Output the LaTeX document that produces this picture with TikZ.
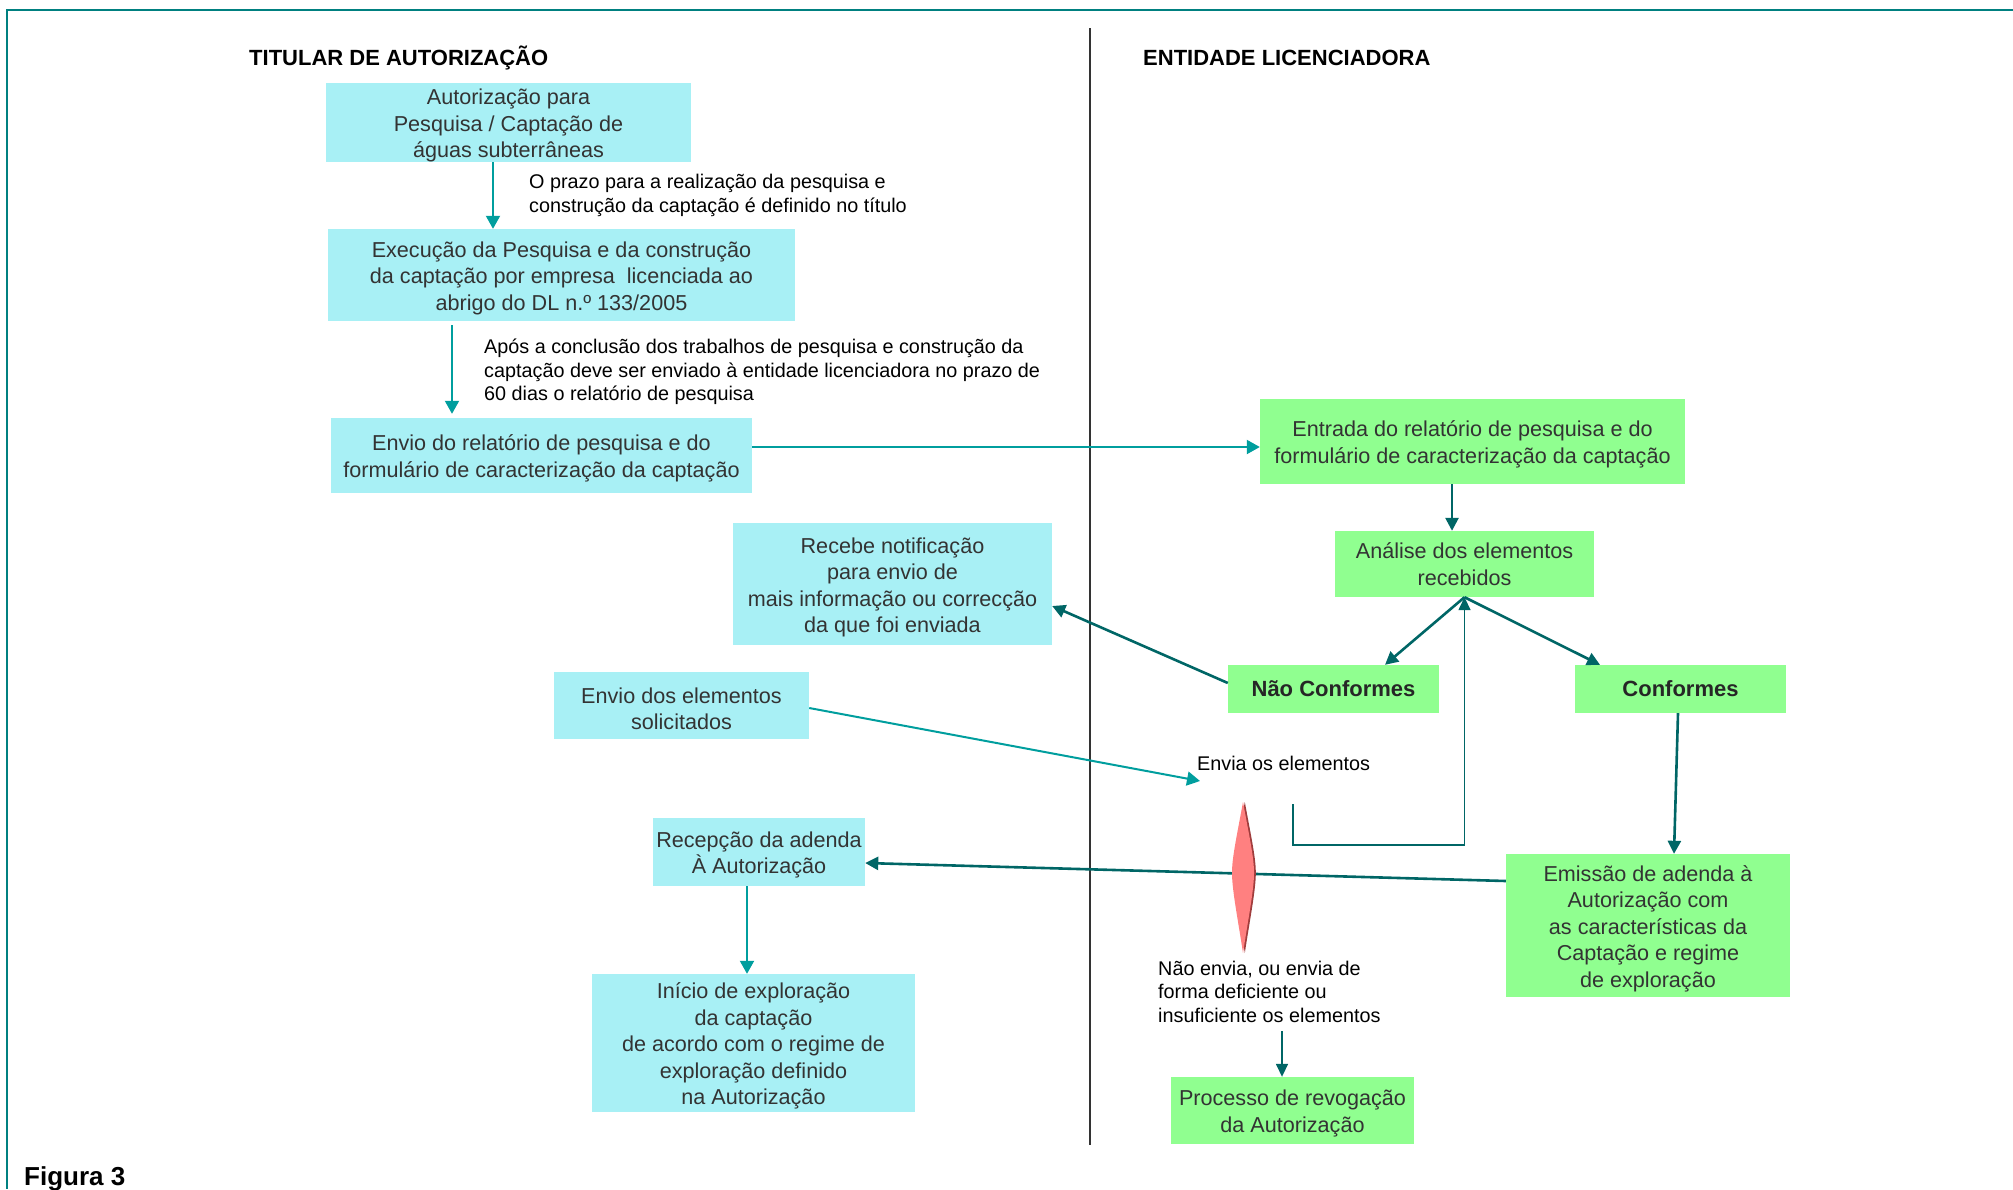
\documentclass[tikz,border=0pt]{standalone}
\usepackage{fontspec}
\setmainfont{Liberation Sans}
\usetikzlibrary{arrows.meta}
\definecolor{cyanbox}{RGB}{168,240,245}
\definecolor{greenbox}{RGB}{144,255,144}
\definecolor{tealA}{RGB}{0,158,158}
\definecolor{tealD}{RGB}{0,102,102}
\definecolor{frameteal}{RGB}{0,128,128}
\definecolor{spindle}{RGB}{255,128,128}
\definecolor{spindleD}{RGB}{160,60,60}
\newcommand\fstrut{\rule{0pt}{22pt}}
\begin{document}
\begin{tikzpicture}[x=1pt,y=-1pt,
  sz/.style 2 args={minimum width=#1pt,minimum height=#2pt},
  box/.style={inner sep=0pt, align=center, text=black!80, font=\fontsize{21.6}{26.5}\selectfont},
  cbox/.style={box, fill=cyanbox},
  gbox/.style={box, fill=greenbox},
  boldbox/.style={box, fill=greenbox, font=\bfseries\fontsize{22}{26}\selectfont, text=black!85},
  lbl/.style={inner sep=0pt, align=left, anchor=north west, font=\fontsize{19.8}{23.5}\selectfont},
  ttl/.style={inner sep=0pt, anchor=base west, font=\bfseries\fontsize{22}{26}\selectfont},
  arA/.style={draw=tealA, line width=2pt, -{Triangle[width=14pt,length=13pt]}},
  arD/.style={draw=tealD, line width=2.6pt, -{Triangle[width=13pt,length=13pt]}},
  arDthin/.style={draw=tealD, line width=1.6pt, -{Triangle[width=12pt,length=13pt]}}
]
\useasboundingbox (0,0) rectangle (2013,1189);
% frame
\draw[frameteal, line width=2.5pt] (2013,10) -- (7,10) -- (7,1189);
% divider
\draw[black!80, line width=1.4pt] (1090,28) -- (1090,1145);
% titles
\node[ttl] (t1) at (249,65) {TITULAR DE AUTORIZAÇÃO};
\node[ttl] (t2) at (1143,65) {ENTIDADE LICENCIADORA};
\node[inner sep=0pt, anchor=base west, font=\bfseries\fontsize{26}{30}\selectfont] (fig) at (24,1185) {Figura 3};

% left column boxes
\node[cbox, sz={365}{79}] (A1) at (508.5,122.5) {\fstrut Autorização para\\Pesquisa / Captação de\\águas subterrâneas};
\node[cbox, sz={467}{92}] (A2) at (561.5,275) {\fstrut Execução da Pesquisa e da construção\\da captação por empresa~ licenciada ao\\abrigo do DL n.º 133/2005};
\node[cbox, sz={421}{75}] (A3) at (541.5,455.5) {\fstrut Envio do relatório de pesquisa e do\\formulário de caracterização da captação};
\node[cbox, sz={319}{122}] (R) at (892.5,584) {\fstrut Recebe notificação\\para envio de\\mais informação ou correcção\\da que foi enviada};
\node[cbox, sz={255}{67}] (E) at (681.5,705.5) {\fstrut Envio dos elementos\\solicitados};
\node[cbox, sz={212}{68}] (Rec) at (759,852) {\fstrut Recepção da adenda\\À Autorização};
\node[cbox, sz={323}{138}] (Ini) at (753.5,1043) {\fstrut Início de exploração\\da captação\\de acordo com o regime de\\exploração definido\\na Autorização};

% right column boxes
\node[gbox, sz={425}{85}] (B1) at (1472.5,441.5) {\fstrut Entrada do relatório de pesquisa e do\\formulário de caracterização da captação};
\node[gbox, sz={259}{66}] (B2) at (1464.5,564) {Análise dos elementos\\recebidos};
\node[boldbox, sz={211}{48}] (NC) at (1333.5,689) {Não Conformes};
\node[boldbox, sz={211}{48}] (C) at (1680.5,689) {Conformes};
\node[gbox, sz={284}{143}] (Em) at (1648,925.5) {\fstrut Emissão de adenda à\\Autorização com\\as características da\\Captação e regime\\de exploração};
\node[gbox, sz={243}{67}] (Rev) at (1292.5,1110.5) {\fstrut Processo de revogação\\da Autorização};

% labels
\node[lbl] (L1) at (529,174) {O prazo para a realização da pesquisa e\\construção da captação é definido no título};
\node[lbl] (L2) at (484,339) {Após a conclusão dos trabalhos de pesquisa e construção da\\captação deve ser enviado à entidade licenciadora no prazo de\\60 dias o relatório de pesquisa};
\node[lbl] (Env) at (1197,755.5) {Envia os elementos};
\node[lbl] (Nao) at (1158,960.5) {Não envia, ou envia de\\forma deficiente ou\\insuficiente os elementos};

\coordinate (envtip) at (1200,781);
\coordinate (brk) at (1293,804);

% connectors
\draw[arA] ([xshift=-15.5pt]A1.south) -- ([xshift=-15.5pt]A1.south |- A2.north);
\draw[arA, shorten <=4pt, shorten >=4pt] ([xshift=-109.5pt]A2.south) -- ([xshift=-109.5pt]A2.south |- A3.north);
\draw[arA] ([yshift=8.5pt]A3.east) -- ([yshift=8.5pt]A3.east -| B1.west);
\draw[arD] ([xshift=-20.5pt]B1.south) -- ([xshift=-20.5pt]B1.south |- B2.north);
\draw[arD] (B2.south) -- ([xshift=51.5pt]NC.north);
\draw[arD] (B2.south) -- ([xshift=-80.5pt]C.north);
\draw[arD] ([yshift=6pt]NC.west) -- ([yshift=-22pt]R.east);
\draw[arA] ([yshift=-2.5pt]E.east) -- (envtip);
\draw[arDthin] (brk) -- ++(0,41) -| (B2.south);
\draw[arD] ([xshift=-2.5pt]C.south) -- ([xshift=26pt]Em.north);
\draw[arD] ([yshift=44.5pt]Em.west) -- ([yshift=-11pt]Rec.east);
\draw[arA] ([xshift=-12pt]Rec.south) -- ([xshift=-12pt]Rec.south |- Ini.north);
\draw[arDthin, shorten <=9pt] ([xshift=-10.5pt]Rev.north |- Nao.south) -- ([xshift=-10.5pt]Rev.north);

% spindle shape
\fill[spindleD, xshift=1.8pt] (1243,802) .. controls (1250,840) and (1254,858) .. (1254,873) .. controls (1254,890) and (1248,920) .. (1243,953) .. controls (1238,920) and (1232,890) .. (1232,873) .. controls (1232,858) and (1236,840) .. (1243,802) -- cycle;
\fill[spindle] (1243,802) .. controls (1250,840) and (1254,858) .. (1254,873) .. controls (1254,890) and (1248,920) .. (1243,953) .. controls (1238,920) and (1232,890) .. (1232,873) .. controls (1232,858) and (1236,840) .. (1243,802) -- cycle;
\end{tikzpicture}
\end{document}
